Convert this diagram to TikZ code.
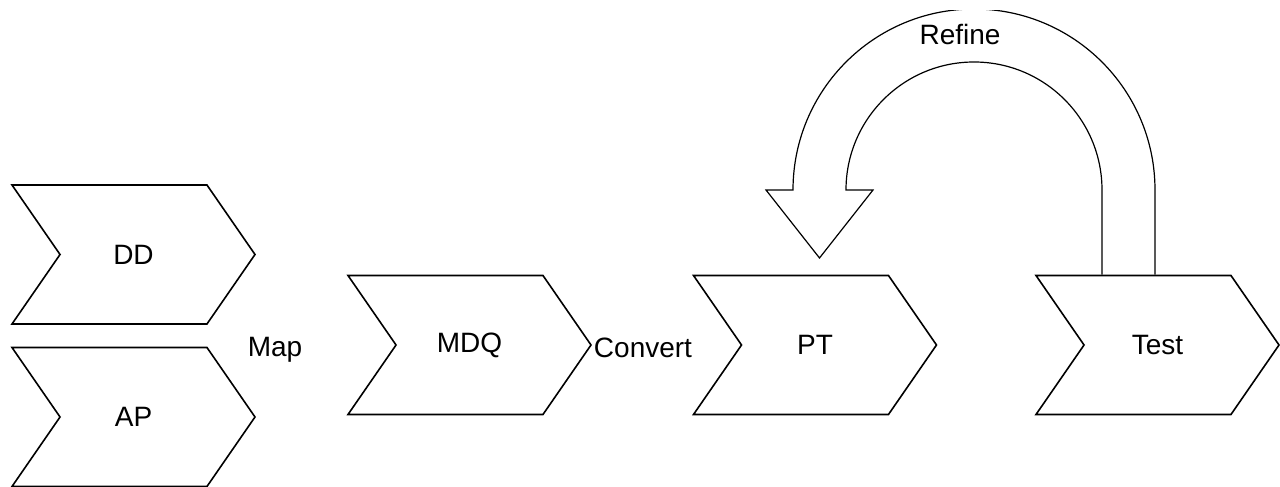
\documentclass[tikz,border=0pt]{standalone}
\usepackage{fontspec}
\setmainfont{Liberation Sans}
\usetikzlibrary{shapes.symbols}
\begin{document}
\begin{tikzpicture}[
        x=0.5pt, y=0.5pt,
        chevron/.style={signal, signal from=west, signal to=east,
            signal pointer angle=110.7, draw, line width=0.8pt,
            minimum width=121.5pt, minimum height=69.5pt, inner sep=0pt,
            font=\fontsize{14}{16}\selectfont},
        steplabel/.style={inner sep=1pt, font=\fontsize{14}{16}\selectfont},
        looparrow/.style={draw, line width=0.6pt, line join=miter}
    ]
    \useasboundingbox (0,0) rectangle (1280,487);
    % input chevrons
    \node [chevron] (dd) at (133.5,232.5) {DD};
    \node [chevron] (ap) at (133.5,70) {AP};
    % main row
    \node [chevron] (mdq) at (469.5,142) {MDQ};
    \node [chevron] (pt) at (815,142) {PT};
    \node [chevron] (test) at (1157.5,142) {Test};
    \node [steplabel] (map) at (275,137) {Map};
    \node [steplabel] (convert) at (643,139) {Convert};
    % refine loop
    \coordinate (loop out) at (1155,297);
    \coordinate (loop in) at (1102,297);
    \begin{scope}
        \clip (0,0) rectangle (1280,476);
        \draw [looparrow] (test.north -| loop out) -- (loop out)
            arc[start angle=0, end angle=180, radius=181]
            -- ++(-27,0) -- ++(53.5,-68) -- ++(53.5,68) -- ++(-27,0)
            arc[start angle=180, end angle=0, radius=128]
            -- (test.north -| loop in);
    \end{scope}
    \node [steplabel] (refine) at (960,453) {Refine};
\end{tikzpicture}
\end{document}
